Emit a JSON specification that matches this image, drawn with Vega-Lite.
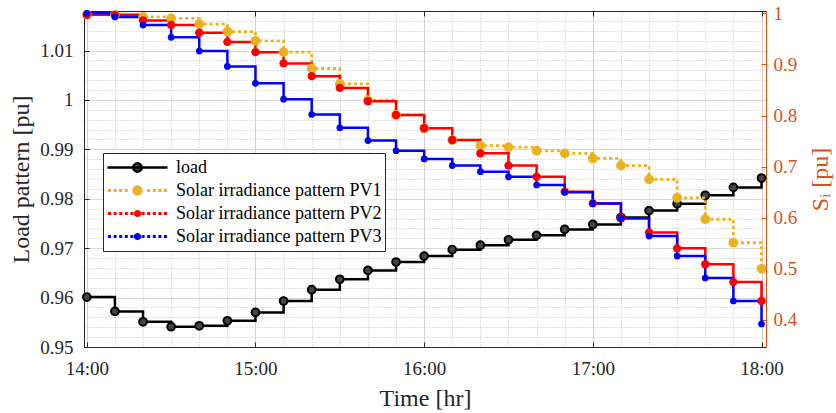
{
  "$schema": "https://vega.github.io/schema/vega-lite/v6.json",
  "width": 682,
  "height": 336,
  "autosize": "none",
  "padding": {"left": 84, "top": 11, "right": 70, "bottom": 66},
  "background": "white",
  "config": {"view": {"stroke": null}, "font": "Liberation Serif", "axis": {"labelFont": "Liberation Serif", "titleFont": "Liberation Serif"}, "legend": {"labelFont": "Liberation Serif"}},
  "datasets": {
    "load": [
      {"m": 840, "series": "load", "v": 0.9601},
      {"m": 850, "series": "load", "v": 0.9572},
      {"m": 860, "series": "load", "v": 0.9551},
      {"m": 870, "series": "load", "v": 0.9541},
      {"m": 880, "series": "load", "v": 0.9543},
      {"m": 890, "series": "load", "v": 0.9553},
      {"m": 900, "series": "load", "v": 0.9570},
      {"m": 910, "series": "load", "v": 0.9593},
      {"m": 920, "series": "load", "v": 0.9616},
      {"m": 930, "series": "load", "v": 0.9637},
      {"m": 940, "series": "load", "v": 0.9655},
      {"m": 950, "series": "load", "v": 0.9672},
      {"m": 960, "series": "load", "v": 0.9684},
      {"m": 970, "series": "load", "v": 0.9697},
      {"m": 980, "series": "load", "v": 0.9706},
      {"m": 990, "series": "load", "v": 0.9717},
      {"m": 1000, "series": "load", "v": 0.9726},
      {"m": 1010, "series": "load", "v": 0.9738},
      {"m": 1020, "series": "load", "v": 0.9748},
      {"m": 1030, "series": "load", "v": 0.9762},
      {"m": 1040, "series": "load", "v": 0.9776},
      {"m": 1050, "series": "load", "v": 0.9790},
      {"m": 1060, "series": "load", "v": 0.9807},
      {"m": 1070, "series": "load", "v": 0.9823},
      {"m": 1080, "series": "load", "v": 0.9842}
    ],
    "pv": [
      {"m": 840, "series": "Solar irradiance pattern PV1", "v": 0.997},
      {"m": 850, "series": "Solar irradiance pattern PV1", "v": 0.997},
      {"m": 860, "series": "Solar irradiance pattern PV1", "v": 0.993},
      {"m": 870, "series": "Solar irradiance pattern PV1", "v": 0.990},
      {"m": 880, "series": "Solar irradiance pattern PV1", "v": 0.979},
      {"m": 890, "series": "Solar irradiance pattern PV1", "v": 0.964},
      {"m": 900, "series": "Solar irradiance pattern PV1", "v": 0.946},
      {"m": 910, "series": "Solar irradiance pattern PV1", "v": 0.924},
      {"m": 920, "series": "Solar irradiance pattern PV1", "v": 0.892},
      {"m": 930, "series": "Solar irradiance pattern PV1", "v": 0.862},
      {"m": 940, "series": "Solar irradiance pattern PV1", "v": 0.830},
      {"m": 950, "series": "Solar irradiance pattern PV1", "v": 0.801},
      {"m": 960, "series": "Solar irradiance pattern PV1", "v": 0.775},
      {"m": 970, "series": "Solar irradiance pattern PV1", "v": 0.752},
      {"m": 980, "series": "Solar irradiance pattern PV1", "v": 0.741},
      {"m": 990, "series": "Solar irradiance pattern PV1", "v": 0.738},
      {"m": 1000, "series": "Solar irradiance pattern PV1", "v": 0.731},
      {"m": 1010, "series": "Solar irradiance pattern PV1", "v": 0.726},
      {"m": 1020, "series": "Solar irradiance pattern PV1", "v": 0.716},
      {"m": 1030, "series": "Solar irradiance pattern PV1", "v": 0.702},
      {"m": 1040, "series": "Solar irradiance pattern PV1", "v": 0.675},
      {"m": 1050, "series": "Solar irradiance pattern PV1", "v": 0.639},
      {"m": 1060, "series": "Solar irradiance pattern PV1", "v": 0.597},
      {"m": 1070, "series": "Solar irradiance pattern PV1", "v": 0.551},
      {"m": 1080, "series": "Solar irradiance pattern PV1", "v": 0.500},
      {"m": 840, "series": "Solar irradiance pattern PV2", "v": 0.997},
      {"m": 850, "series": "Solar irradiance pattern PV2", "v": 0.997},
      {"m": 860, "series": "Solar irradiance pattern PV2", "v": 0.986},
      {"m": 870, "series": "Solar irradiance pattern PV2", "v": 0.977},
      {"m": 880, "series": "Solar irradiance pattern PV2", "v": 0.962},
      {"m": 890, "series": "Solar irradiance pattern PV2", "v": 0.944},
      {"m": 900, "series": "Solar irradiance pattern PV2", "v": 0.924},
      {"m": 910, "series": "Solar irradiance pattern PV2", "v": 0.902},
      {"m": 920, "series": "Solar irradiance pattern PV2", "v": 0.877},
      {"m": 930, "series": "Solar irradiance pattern PV2", "v": 0.854},
      {"m": 940, "series": "Solar irradiance pattern PV2", "v": 0.828},
      {"m": 950, "series": "Solar irradiance pattern PV2", "v": 0.801},
      {"m": 960, "series": "Solar irradiance pattern PV2", "v": 0.775},
      {"m": 970, "series": "Solar irradiance pattern PV2", "v": 0.752},
      {"m": 980, "series": "Solar irradiance pattern PV2", "v": 0.726},
      {"m": 990, "series": "Solar irradiance pattern PV2", "v": 0.702},
      {"m": 1000, "series": "Solar irradiance pattern PV2", "v": 0.680},
      {"m": 1010, "series": "Solar irradiance pattern PV2", "v": 0.651},
      {"m": 1020, "series": "Solar irradiance pattern PV2", "v": 0.628},
      {"m": 1030, "series": "Solar irradiance pattern PV2", "v": 0.599},
      {"m": 1040, "series": "Solar irradiance pattern PV2", "v": 0.571},
      {"m": 1050, "series": "Solar irradiance pattern PV2", "v": 0.540},
      {"m": 1060, "series": "Solar irradiance pattern PV2", "v": 0.509},
      {"m": 1070, "series": "Solar irradiance pattern PV2", "v": 0.474},
      {"m": 1080, "series": "Solar irradiance pattern PV2", "v": 0.437},
      {"m": 840, "series": "Solar irradiance pattern PV3", "v": 1.0},
      {"m": 850, "series": "Solar irradiance pattern PV3", "v": 0.993},
      {"m": 860, "series": "Solar irradiance pattern PV3", "v": 0.977},
      {"m": 870, "series": "Solar irradiance pattern PV3", "v": 0.953},
      {"m": 880, "series": "Solar irradiance pattern PV3", "v": 0.926},
      {"m": 890, "series": "Solar irradiance pattern PV3", "v": 0.896},
      {"m": 900, "series": "Solar irradiance pattern PV3", "v": 0.863},
      {"m": 910, "series": "Solar irradiance pattern PV3", "v": 0.832},
      {"m": 920, "series": "Solar irradiance pattern PV3", "v": 0.802},
      {"m": 930, "series": "Solar irradiance pattern PV3", "v": 0.776},
      {"m": 940, "series": "Solar irradiance pattern PV3", "v": 0.751},
      {"m": 950, "series": "Solar irradiance pattern PV3", "v": 0.731},
      {"m": 960, "series": "Solar irradiance pattern PV3", "v": 0.715},
      {"m": 970, "series": "Solar irradiance pattern PV3", "v": 0.702},
      {"m": 980, "series": "Solar irradiance pattern PV3", "v": 0.690},
      {"m": 990, "series": "Solar irradiance pattern PV3", "v": 0.680},
      {"m": 1000, "series": "Solar irradiance pattern PV3", "v": 0.664},
      {"m": 1010, "series": "Solar irradiance pattern PV3", "v": 0.650},
      {"m": 1020, "series": "Solar irradiance pattern PV3", "v": 0.628},
      {"m": 1030, "series": "Solar irradiance pattern PV3", "v": 0.599},
      {"m": 1040, "series": "Solar irradiance pattern PV3", "v": 0.564},
      {"m": 1050, "series": "Solar irradiance pattern PV3", "v": 0.525},
      {"m": 1060, "series": "Solar irradiance pattern PV3", "v": 0.482},
      {"m": 1070, "series": "Solar irradiance pattern PV3", "v": 0.437},
      {"m": 1080, "series": "Solar irradiance pattern PV3", "v": 0.392}
    ]
  },
  "layer": [
    {
      "data": {"name": "load"},
      "mark": {"type": "line", "interpolate": "step-after", "strokeWidth": 2.5, "color": "#000000"},
      "encoding": {
        "x": {
          "field": "m", "type": "quantitative",
          "scale": {"domain": [839, 1081.6], "nice": false, "zero": false},
          "axis": {"orient": "bottom", "values": [840, 900, 960, 1020, 1080], "labelExpr": "floor(datum.value / 60) + ':00'", "grid": true, "gridColor": "#d9d9d9", "tickSize": -5, "tickColor": "#262626", "domainColor": "#262626", "labelFont": "Liberation Serif", "labelFontSize": 19, "labelColor": "#262626", "labelPadding": 17, "labelFlush": false, "labelOverlap": false, "title": "Time [hr]", "titleFont": "Liberation Serif", "titleFontSize": 24, "titleFontWeight": "normal", "titleColor": "#262626", "titlePadding": 8}
        },
        "y": {
          "field": "v", "type": "quantitative",
          "scale": {"domain": [0.95, 1.018], "nice": false, "zero": false},
          "axis": {"orient": "left", "values": [0.95, 0.96, 0.97, 0.98, 0.99, 1, 1.01], "format": ".2~f", "grid": true, "gridColor": "#d9d9d9", "tickSize": -5, "tickColor": "#262626", "domainColor": "#262626", "labelFont": "Liberation Serif", "labelFontSize": 19, "labelColor": "#262626", "labelPadding": 16, "labelOverlap": false, "title": "Load pattern [pu]", "titleFont": "Liberation Serif", "titleFontSize": 24, "titleFontWeight": "normal", "titleColor": "#262626", "titlePadding": 6}
        }
      }
    },
    {
      "data": {"name": "load"},
      "mark": {"type": "point", "filled": true, "size": 60, "fill": "#444444", "stroke": "#000000", "strokeWidth": 2, "opacity": 1},
      "encoding": {
        "x": {
          "field": "m", "type": "quantitative",
          "scale": {"domain": [839, 1081.6], "nice": false, "zero": false},
          "axis": {"orient": "bottom", "values": [840, 850, 860, 870, 880, 890, 900, 910, 920, 930, 940, 950, 960, 970, 980, 990, 1000, 1010, 1020, 1030, 1040, 1050, 1060, 1070, 1080], "grid": true, "gridDash": [1, 2], "gridColor": "#c4c4c4", "ticks": false, "labels": false, "domain": false, "title": null}
        },
        "y": {
          "field": "v", "type": "quantitative",
          "scale": {"domain": [0.95, 1.018], "nice": false, "zero": false},
          "axis": {"orient": "left", "values": [0.952, 0.954, 0.956, 0.958, 0.962, 0.964, 0.966, 0.968, 0.972, 0.974, 0.976, 0.978, 0.982, 0.984, 0.986, 0.988, 0.992, 0.994, 0.996, 0.998, 1.002, 1.004, 1.006, 1.008, 1.012, 1.014, 1.016, 1.018], "grid": true, "gridDash": [1, 2], "gridColor": "#c4c4c4", "ticks": false, "labels": false, "domain": false, "title": null}
        }
      }
    },
    {
      "data": {"name": "pv"},
      "transform": [{"filter": "datum.series === 'Solar irradiance pattern PV1'"}],
      "mark": {"type": "line", "interpolate": "step-after", "strokeWidth": 2.8, "strokeDash": [3, 3], "color": "#EDB120"},
      "encoding": {
        "x": {
          "field": "m", "type": "quantitative",
          "scale": {"domain": [839, 1081.6], "nice": false, "zero": false},
          "axis": {"orient": "top", "values": [840, 900, 960, 1020, 1080], "labels": false, "grid": false, "tickSize": -5, "tickColor": "#262626", "domainColor": "#262626", "title": null}
        },
        "y": {
          "field": "v", "type": "quantitative",
          "scale": {"domain": [0.347, 1.0045], "nice": false, "zero": false},
          "axis": {"orient": "right", "values": [0.4, 0.5, 0.6, 0.7, 0.8, 0.9, 1], "format": ".1~f", "grid": false, "tickSize": -5, "tickColor": "#D95319", "domainColor": "#D95319", "labelColor": "#D95319", "labelFont": "Liberation Serif", "labelFontSize": 19, "labelPadding": 12, "labelOverlap": false, "title": "Sᵢ [pu]", "titleFont": "Liberation Serif", "titleColor": "#D95319", "titleFontSize": 24, "titleFontWeight": "normal", "titleAngle": 270, "titleBaseline": "top", "titlePadding": 12}
        }
      }
    },
    {
      "data": {"name": "pv"},
      "transform": [{"filter": "datum.series !== 'Solar irradiance pattern PV1'"}],
      "mark": {"type": "line", "interpolate": "step-after", "strokeWidth": 2.5},
      "encoding": {
        "x": {"field": "m", "type": "quantitative", "scale": {"domain": [839, 1081.6], "nice": false, "zero": false}, "axis": null},
        "y": {"field": "v", "type": "quantitative", "scale": {"domain": [0.347, 1.0045], "nice": false, "zero": false}, "axis": null},
        "color": {
          "field": "series", "type": "nominal",
          "scale": {"domain": ["Solar irradiance pattern PV1", "Solar irradiance pattern PV2", "Solar irradiance pattern PV3"], "range": ["#EDB120", "#FF0000", "#0000FF"]},
          "legend": null
        }
      }
    },
    {
      "data": {"name": "pv"},
      "mark": {"type": "point", "filled": true, "opacity": 1, "shape": "circle"},
      "encoding": {
        "x": {"field": "m", "type": "quantitative", "scale": {"domain": [839, 1081.6], "nice": false, "zero": false}, "axis": null},
        "y": {"field": "v", "type": "quantitative", "scale": {"domain": [0.347, 1.0045], "nice": false, "zero": false}, "axis": null},
        "color": {
          "field": "series", "type": "nominal",
          "scale": {"domain": ["Solar irradiance pattern PV1", "Solar irradiance pattern PV2", "Solar irradiance pattern PV3"], "range": ["#EDB120", "#FF0000", "#0000FF"]},
          "legend": null
        },
        "size": {
          "field": "series", "type": "nominal",
          "scale": {"domain": ["Solar irradiance pattern PV1", "Solar irradiance pattern PV2", "Solar irradiance pattern PV3"], "range": [95, 45, 45]},
          "legend": null
        }
      }
    },
    {
      "data": {"name": "pv"},
      "transform": [{"filter": "false"}],
      "mark": {"type": "point", "filled": true, "opacity": 1},
      "encoding": {
        "x": {"field": "m", "type": "quantitative", "scale": {"domain": [839, 1081.6], "nice": false, "zero": false}, "axis": null},
        "y": {"field": "v", "type": "quantitative", "scale": {"domain": [0.347, 1.0045], "nice": false, "zero": false}, "axis": null},
        "fill": {
          "field": "series", "type": "nominal",
          "scale": {"domain": ["load", "Solar irradiance pattern PV1", "Solar irradiance pattern PV2", "Solar irradiance pattern PV3"], "range": ["#444444", "#EDB120", "#FF0000", "#0000FF"]},
          "legend": {
            "orient": "none", "legendX": 19, "legendY": 142, "title": null,
            "fillColor": "white", "strokeColor": "#262626", "padding": 3,
            "symbolSize": 3600, "clipHeight": 23, "rowPadding": 0,
            "labelFont": "Liberation Serif", "labelFontSize": 18, "labelColor": "#000000", "labelOffset": 7, "labelLimit": 400,
            "symbolStrokeWidth": 2.5, "symbolOpacity": 1
          }
        },
        "stroke": {
          "field": "series", "type": "nominal",
          "scale": {"domain": ["load", "Solar irradiance pattern PV1", "Solar irradiance pattern PV2", "Solar irradiance pattern PV3"], "range": ["#000000", "transparent", "transparent", "transparent"]},
          "legend": {"orient": "none", "legendX": 19, "legendY": 142, "title": null}
        },
        "shape": {
          "field": "series", "type": "nominal",
          "scale": {"domain": ["load", "Solar irradiance pattern PV1", "Solar irradiance pattern PV2", "Solar irradiance pattern PV3"], "range": [
            "M-1,0L1,0M0.14,0A0.14,0.14,0,1,1,-0.14,0A0.14,0.14,0,1,1,0.14,0Z",
            "M-0.983,-0.05h0.1v0.1h-0.1ZM-0.797,-0.05h0.1v0.1h-0.1ZM-0.61,-0.05h0.1v0.1h-0.1ZM-0.423,-0.05h0.1v0.1h-0.1ZM0.323,-0.05h0.1v0.1h-0.1ZM0.51,-0.05h0.1v0.1h-0.1ZM0.697,-0.05h0.1v0.1h-0.1ZM0.883,-0.05h0.1v0.1h-0.1ZM0.17,0A0.17,0.17,0,1,1,-0.17,0A0.17,0.17,0,1,1,0.17,0Z",
            "M-0.983,-0.05h0.1v0.1h-0.1ZM-0.797,-0.05h0.1v0.1h-0.1ZM-0.61,-0.05h0.1v0.1h-0.1ZM-0.423,-0.05h0.1v0.1h-0.1ZM-0.237,-0.05h0.1v0.1h-0.1ZM0.137,-0.05h0.1v0.1h-0.1ZM0.323,-0.05h0.1v0.1h-0.1ZM0.51,-0.05h0.1v0.1h-0.1ZM0.697,-0.05h0.1v0.1h-0.1ZM0.883,-0.05h0.1v0.1h-0.1ZM0.12,0A0.12,0.12,0,1,1,-0.12,0A0.12,0.12,0,1,1,0.12,0Z",
            "M-0.983,-0.05h0.1v0.1h-0.1ZM-0.797,-0.05h0.1v0.1h-0.1ZM-0.61,-0.05h0.1v0.1h-0.1ZM-0.423,-0.05h0.1v0.1h-0.1ZM-0.237,-0.05h0.1v0.1h-0.1ZM0.137,-0.05h0.1v0.1h-0.1ZM0.323,-0.05h0.1v0.1h-0.1ZM0.51,-0.05h0.1v0.1h-0.1ZM0.697,-0.05h0.1v0.1h-0.1ZM0.883,-0.05h0.1v0.1h-0.1ZM0.12,0A0.12,0.12,0,1,1,-0.12,0A0.12,0.12,0,1,1,0.12,0Z"
          ]},
          "legend": {"orient": "none", "legendX": 19, "legendY": 142, "title": null}
        }
      }
    }
  ],
  "resolve": {"scale": {"y": "independent"}, "axis": {"x": "independent", "y": "independent"}}
}
